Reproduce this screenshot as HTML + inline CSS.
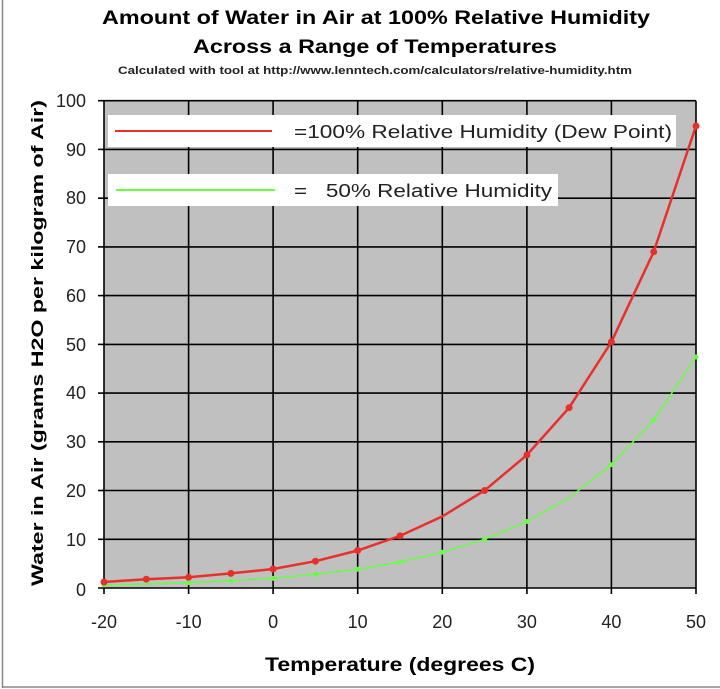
<!DOCTYPE html>
<html><head><style>
html,body{margin:0;padding:0;background:#fff;}
svg{display:block;font-family:"Liberation Sans",Arial,sans-serif;}
</style></head><body>
<svg width="720" height="689" viewBox="0 0 720 689" xmlns="http://www.w3.org/2000/svg">
<rect x="0" y="0" width="720" height="689" fill="#fff"/>
<line x1="2.5" y1="0" x2="2.5" y2="688" stroke="#888" stroke-width="1.5"/>
<line x1="2" y1="687" x2="720" y2="687" stroke="#888" stroke-width="1.5"/>
<text x="102" y="24" font-size="19" font-weight="bold" textLength="548" lengthAdjust="spacingAndGlyphs">Amount of Water in Air at 100% Relative Humidity</text>
<text x="193" y="53" font-size="19" font-weight="bold" textLength="364" lengthAdjust="spacingAndGlyphs">Across a Range of Temperatures</text>
<text x="118" y="74" font-size="11" font-weight="bold" fill="#222" textLength="514" lengthAdjust="spacingAndGlyphs">Calculated with tool at http://www.lenntech.com/calculators/relative-humidity.htm</text>
<rect x="104" y="100.7" width="592" height="487.3" fill="#c0c0c0"/>
<g stroke="#000" stroke-width="1.6">
<line x1="104" y1="100.7" x2="696" y2="100.7"/>
<line x1="104" y1="149.4" x2="696" y2="149.4"/>
<line x1="104" y1="198.2" x2="696" y2="198.2"/>
<line x1="104" y1="246.9" x2="696" y2="246.9"/>
<line x1="104" y1="295.6" x2="696" y2="295.6"/>
<line x1="104" y1="344.4" x2="696" y2="344.4"/>
<line x1="104" y1="393.1" x2="696" y2="393.1"/>
<line x1="104" y1="441.8" x2="696" y2="441.8"/>
<line x1="104" y1="490.5" x2="696" y2="490.5"/>
<line x1="104" y1="539.3" x2="696" y2="539.3"/>
<line x1="98" y1="588" x2="696" y2="588"/>
<line x1="104" y1="100.7" x2="104" y2="594"/>
<line x1="188.6" y1="100.7" x2="188.6" y2="594"/>
<line x1="273.1" y1="100.7" x2="273.1" y2="594"/>
<line x1="357.7" y1="100.7" x2="357.7" y2="594"/>
<line x1="442.3" y1="100.7" x2="442.3" y2="594"/>
<line x1="526.9" y1="100.7" x2="526.9" y2="594"/>
<line x1="611.4" y1="100.7" x2="611.4" y2="594"/>
<line x1="696" y1="100.7" x2="696" y2="594"/>
<line x1="98" y1="100.7" x2="104" y2="100.7"/>
<line x1="98" y1="149.4" x2="104" y2="149.4"/>
<line x1="98" y1="198.2" x2="104" y2="198.2"/>
<line x1="98" y1="246.9" x2="104" y2="246.9"/>
<line x1="98" y1="295.6" x2="104" y2="295.6"/>
<line x1="98" y1="344.4" x2="104" y2="344.4"/>
<line x1="98" y1="393.1" x2="104" y2="393.1"/>
<line x1="98" y1="441.8" x2="104" y2="441.8"/>
<line x1="98" y1="490.5" x2="104" y2="490.5"/>
<line x1="98" y1="539.3" x2="104" y2="539.3"/>
</g>
<g font-size="18" fill="#222" text-anchor="end">
<text x="86" y="107">100</text><text x="86" y="156">90</text><text x="86" y="204">80</text>
<text x="86" y="253">70</text><text x="86" y="302">60</text><text x="86" y="351">50</text>
<text x="86" y="399">40</text><text x="86" y="448">30</text><text x="86" y="497">20</text>
<text x="86" y="546">10</text><text x="86" y="596">0</text>
</g>
<g font-size="18" fill="#222" text-anchor="middle">
<text x="104" y="628">-20</text><text x="188.6" y="628">-10</text><text x="273.1" y="628">0</text>
<text x="357.7" y="628">10</text><text x="442.3" y="628">20</text><text x="526.9" y="628">30</text>
<text x="611.4" y="628">40</text><text x="696" y="628">50</text>
</g>
<text x="265" y="671" font-size="19" font-weight="bold" textLength="270" lengthAdjust="spacingAndGlyphs">Temperature (degrees C)</text>
<text transform="translate(43,586) rotate(-90)" font-size="17" font-weight="bold" textLength="486" lengthAdjust="spacingAndGlyphs">Water in Air (grams H2O per kilogram of Air)</text>
<rect x="108" y="115" width="568" height="32" fill="#fff"/>
<line x1="115" y1="131" x2="272" y2="131" stroke="#e8302a" stroke-width="2"/>
<text x="294" y="138" font-size="18" fill="#222" textLength="378" lengthAdjust="spacingAndGlyphs">=100% Relative Humidity (Dew Point)</text>
<rect x="108" y="174" width="450" height="32" fill="#fff"/>
<line x1="116" y1="190" x2="275" y2="190" stroke="#66ff44" stroke-width="2"/>
<text x="294" y="197" font-size="18" fill="#222" xml:space="preserve" textLength="258" lengthAdjust="spacingAndGlyphs">=   50% Relative Humidity</text>
<polyline fill="none" stroke="#66ff44" stroke-width="1.5" points="104,585 146.3,584 188.6,582.6 230.9,580.6 273.1,578.4 315.4,574.3 357.7,569.2 400,562 442.3,552.3 484.6,539.3 526.9,521.5 569.1,497.8 611.4,464.7 653.7,420 696,357"/>
<g fill="#66ff44"><circle cx="104" cy="585" r="2.5"/><circle cx="188.6" cy="582.6" r="2.5"/><circle cx="230.9" cy="580.6" r="2.5"/><circle cx="273.1" cy="578.4" r="2.5"/><circle cx="315.4" cy="574.3" r="2.5"/><circle cx="357.7" cy="569.2" r="2.5"/><circle cx="400" cy="562" r="2.5"/><circle cx="442.3" cy="552.3" r="2.5"/><circle cx="484.6" cy="539.3" r="2.5"/><circle cx="526.9" cy="521.5" r="2.5"/><circle cx="611.4" cy="464.7" r="2.5"/><circle cx="653.7" cy="420" r="2.5"/><circle cx="696" cy="357" r="2.5"/></g>
<polyline fill="none" stroke="#e8302a" stroke-width="2.5" points="104,582 146.3,579.2 188.6,577.3 230.9,573.4 273.1,569 315.4,561.2 357.7,550.5 400,535.9 442.3,516.4 484.6,490.5 526.9,455 569.1,407.7 611.4,341.9 653.7,251.8 696,126"/>
<g fill="#e8302a"><circle cx="104" cy="582" r="3.5"/><circle cx="146.3" cy="579.2" r="3.5"/><circle cx="188.6" cy="577.3" r="3.5"/><circle cx="230.9" cy="573.4" r="3.5"/><circle cx="273.1" cy="569" r="3.5"/><circle cx="315.4" cy="561.2" r="3.5"/><circle cx="357.7" cy="550.5" r="3.5"/><circle cx="400" cy="535.9" r="3.5"/><circle cx="484.6" cy="490.5" r="3.5"/><circle cx="526.9" cy="455" r="3.5"/><circle cx="569.1" cy="407.7" r="3.5"/><circle cx="611.4" cy="341.9" r="3.5"/><circle cx="653.7" cy="251.8" r="3.5"/><circle cx="696" cy="126" r="3.5"/></g>
</svg>
</body></html>
